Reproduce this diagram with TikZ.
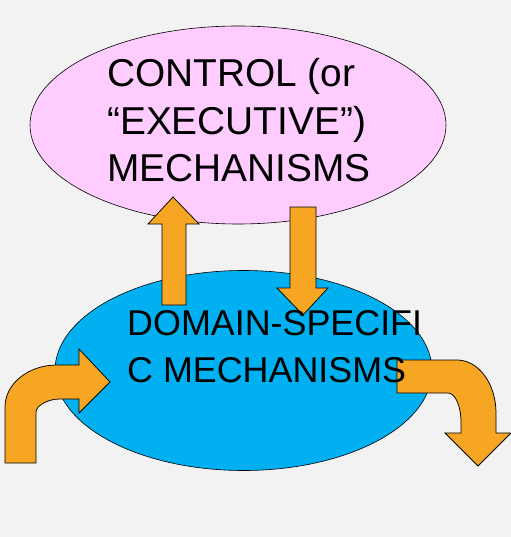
\documentclass[tikz,border=0pt]{standalone}
\usepackage{fontspec}
\newfontfamily\labelfont{Liberation Sans}
\usetikzlibrary{shapes.geometric,positioning}
\definecolor{ctrlpink}{HTML}{FFCCFF}
\definecolor{domblue}{HTML}{00B0F0}
\definecolor{arroworange}{HTML}{F6A623}
\definecolor{bggrey}{HTML}{F2F2F2}

\begin{document}
\begin{tikzpicture}[x=1bp, y=-1bp,
    blob/.style={draw, ellipse, line width=0.6pt, inner sep=0pt},
    tagtext/.style={align=left, inner sep=0pt, font=\labelfont},
    blockarrow/.style={draw=black, fill=arroworange, line width=0.75pt, line join=miter}]
    \useasboundingbox (0,0) rectangle (511,537);
    \fill[bggrey] (0,0) rectangle (511,537);

    \node[blob, fill=ctrlpink, minimum width=416bp, minimum height=198bp] (ctrl) at (238,125) {};
    \node[blob, fill=domblue, minimum width=377bp, minimum height=200bp] (dom) at (243.5,370.5) {};

    % up and down between the two mechanisms
    \draw[blockarrow] (162,305) -- (162,224) -- (148,224) -- (173,197) -- (199,224) -- (186,224) -- (186,305) -- cycle;
    \draw[blockarrow] (290,207) -- (316,207) -- (316,288) -- (328,288) -- (303,315) -- (277,288) -- (290,288) -- cycle;

    % input and output
    \draw[blockarrow] (5,463) -- (5,407) .. controls (5,383.8) and (28.3,365) .. (57,365) -- (79,365) -- (79,349)
        -- (110,382) -- (79,413) -- (79,399) -- (60,399) .. controls (46.8,399) and (36,406.2) .. (36,412) -- (36,463) -- cycle;
    \draw[blockarrow] (397,360) -- (457,360) .. controls (478.5,360) and (496,383.7) .. (496,413) -- (496,433) -- (511,433)
        -- (478,466) -- (445,433) -- (461,433) -- (461,422) .. controls (461,406) and (455.2,393) .. (448,393) -- (397,393) -- cycle;

    \node[tagtext, anchor=base west, font=\labelfont\fontsize{39}{48}\selectfont] (ctrltext) at (107,182) {CONTROL (or\\“EXECUTIVE”)\\MECHANISMS};
    \node[tagtext, anchor=base west, font=\labelfont\fontsize{36}{47}\selectfont] (domtext) at (127,382) {DOMAIN-SPECIFI\\C MECHANISMS};
\end{tikzpicture}
\end{document}
